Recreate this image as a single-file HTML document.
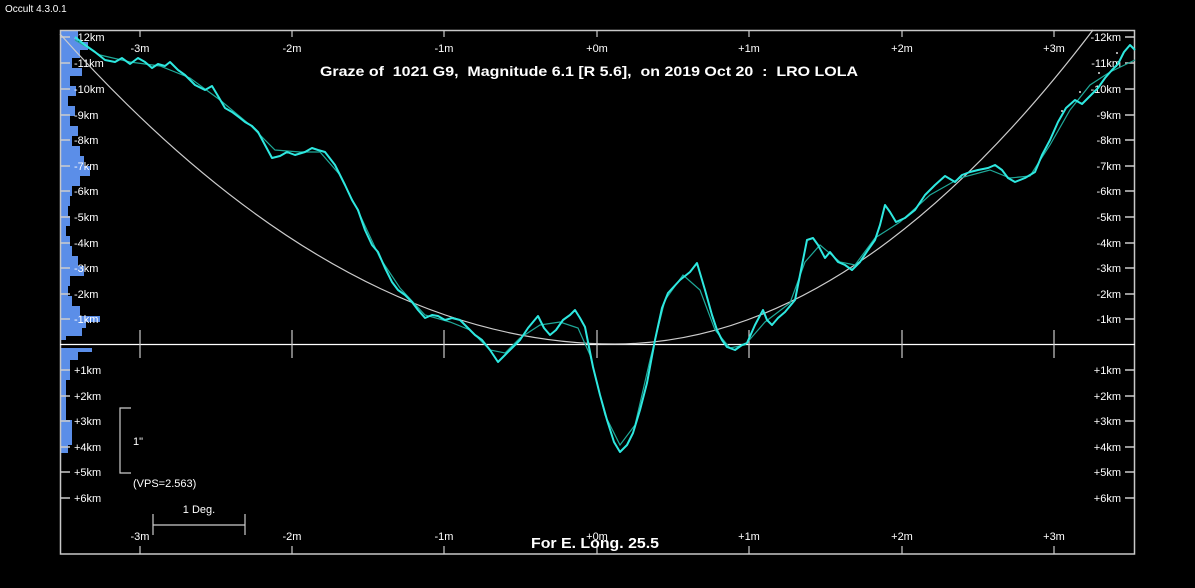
<!DOCTYPE html>
<html><head><style>
body{margin:0;background:#000;width:1195px;height:583px;overflow:hidden}
svg text{font-family:"Liberation Sans",Arial,sans-serif;fill:#fff}
</style></head><body>
<svg width="1195" height="583" viewBox="0 0 1195 583" xmlns="http://www.w3.org/2000/svg">
<text x="5" y="12" font-size="10">Occult 4.3.0.1</text>
<!-- histogram -->
<path fill="#5b8ee8" d="M60,30 H78 V42 H88 V50 H80 V58 H72 V68 H82 V76 H70 V86 H76 V96 H68 V106 H75 V116 H70 V126 H78 V136 H72 V146 H80 V156 H84 V166 H90 V176 H80 V186 H72 V196 H70 V206 H68 V216 H70 V226 H66 V236 H70 V246 H72 V256 H78 V266 H84 V276 H70 V286 H68 V296 H72 V306 H80 V316 H100 V322 H86 V328 H82 V336 H66 V340 H60 Z"/>
<path fill="#5b8ee8" d="M60,348 H92 V352 H78 V360 H70 V380 H66 V420 H72 V445 H68 V453 H60 Z"/>
<!-- frame -->
<rect x="60.5" y="30.5" width="1074" height="523.5" fill="none" stroke="#c8c8c8" stroke-width="1.5"/>
<line x1="60" y1="344.5" x2="1135" y2="344.5" stroke="#fff" stroke-width="1.2"/>
<g stroke="#ccc" stroke-width="1.2">
<line x1="140" y1="30" x2="140" y2="37"/><line x1="292" y1="30" x2="292" y2="37"/><line x1="444" y1="30" x2="444" y2="37"/><line x1="597" y1="30" x2="597" y2="37"/><line x1="749" y1="30" x2="749" y2="37"/><line x1="902" y1="30" x2="902" y2="37"/><line x1="1054" y1="30" x2="1054" y2="37"/>
<line x1="140" y1="546" x2="140" y2="554"/><line x1="292" y1="546" x2="292" y2="554"/><line x1="444" y1="546" x2="444" y2="554"/><line x1="597" y1="546" x2="597" y2="554"/><line x1="749" y1="546" x2="749" y2="554"/><line x1="902" y1="546" x2="902" y2="554"/><line x1="1054" y1="546" x2="1054" y2="554"/>
<line x1="140" y1="330" x2="140" y2="358"/><line x1="292" y1="330" x2="292" y2="358"/><line x1="444" y1="330" x2="444" y2="358"/><line x1="597" y1="330" x2="597" y2="358"/><line x1="749" y1="330" x2="749" y2="358"/><line x1="902" y1="330" x2="902" y2="358"/><line x1="1054" y1="330" x2="1054" y2="358"/>
</g>
<g font-size="11" text-anchor="middle">
<text x="140" y="52">-3m</text><text x="292" y="52">-2m</text><text x="444" y="52">-1m</text><text x="597" y="52">+0m</text><text x="749" y="52">+1m</text><text x="902" y="52">+2m</text><text x="1054" y="52">+3m</text>
<text x="140" y="540">-3m</text><text x="292" y="540">-2m</text><text x="444" y="540">-1m</text><text x="597" y="540">+0m</text><text x="749" y="540">+1m</text><text x="902" y="540">+2m</text><text x="1054" y="540">+3m</text>
</g>
<!-- km ticks -->
<g stroke="#ccc" stroke-width="1.5" id="lt">
<line x1="60" y1="37" x2="70" y2="37"/><line x1="60" y1="63" x2="70" y2="63"/><line x1="60" y1="89" x2="70" y2="89"/><line x1="60" y1="115" x2="70" y2="115"/><line x1="60" y1="140" x2="70" y2="140"/><line x1="60" y1="166" x2="70" y2="166"/><line x1="60" y1="191" x2="70" y2="191"/><line x1="60" y1="217" x2="70" y2="217"/><line x1="60" y1="243" x2="70" y2="243"/><line x1="60" y1="268" x2="70" y2="268"/><line x1="60" y1="294" x2="70" y2="294"/><line x1="60" y1="319" x2="70" y2="319"/>
<line x1="60" y1="370" x2="70" y2="370"/><line x1="60" y1="396" x2="70" y2="396"/><line x1="60" y1="421" x2="70" y2="421"/><line x1="60" y1="447" x2="70" y2="447"/><line x1="60" y1="472" x2="70" y2="472"/><line x1="60" y1="498" x2="70" y2="498"/>
</g>
<use href="#lt" transform="translate(1195,0) scale(-1,1)"/>
<g font-size="11">
<g text-anchor="start">
<text x="74" y="41">-12km</text><text x="74" y="67">-11km</text><text x="74" y="93">-10km</text><text x="74" y="119">-9km</text><text x="74" y="144">-8km</text><text x="74" y="170">-7km</text><text x="74" y="195">-6km</text><text x="74" y="221">-5km</text><text x="74" y="247">-4km</text><text x="74" y="272">-3km</text><text x="74" y="298">-2km</text><text x="74" y="323">-1km</text>
<text x="74" y="374">+1km</text><text x="74" y="400">+2km</text><text x="74" y="425">+3km</text><text x="74" y="451">+4km</text><text x="74" y="476">+5km</text><text x="74" y="502">+6km</text>
</g>
<g text-anchor="end">
<text x="1121" y="41">-12km</text><text x="1121" y="67">-11km</text><text x="1121" y="93">-10km</text><text x="1121" y="119">-9km</text><text x="1121" y="144">-8km</text><text x="1121" y="170">-7km</text><text x="1121" y="195">-6km</text><text x="1121" y="221">-5km</text><text x="1121" y="247">-4km</text><text x="1121" y="272">-3km</text><text x="1121" y="298">-2km</text><text x="1121" y="323">-1km</text>
<text x="1121" y="374">+1km</text><text x="1121" y="400">+2km</text><text x="1121" y="425">+3km</text><text x="1121" y="451">+4km</text><text x="1121" y="476">+5km</text><text x="1121" y="502">+6km</text>
</g>
</g>
<!-- scale markers -->
<path d="M131,408 H120 V473 H131" fill="none" stroke="#ccc" stroke-width="1.2"/>
<text x="133" y="445" font-size="11">1"</text>
<text x="133" y="487" font-size="11">(VPS=2.563)</text>
<path d="M153,514 V535 M153,525 H245 M245,514 V535" fill="none" stroke="#ccc" stroke-width="1.2"/>
<text x="199" y="513" font-size="11" text-anchor="middle">1 Deg.</text>
<text x="320" y="76" font-size="14" font-weight="bold" xml:space="preserve" style="white-space:pre" textLength="538" lengthAdjust="spacingAndGlyphs">Graze of  1021 G9,  Magnitude 6.1 [R 5.6],  on 2019 Oct 20  :  LRO LOLA</text>
<text x="531" y="548" font-size="15" font-weight="bold" textLength="128" lengthAdjust="spacingAndGlyphs">For E. Long. 25.5</text>
<!-- limb parabola -->
<path fill="none" stroke="#ccc" stroke-width="1.2" d="M60,34 Q337.5,344 615,344 Q854,344 1093,30"/>
<!-- smoothed -->
<path fill="none" stroke="#1fa898" stroke-width="1.2" d="M75,40 L100,55 L130,62 L160,66 L190,78 L220,100 L250,125 L275,150 L300,152 L320,152 L340,175 L360,215 L380,258 L400,288 L425,315 L450,322 L470,330 L490,350 L505,353 L520,338 L540,325 L560,322 L578,328 L590,355 L605,415 L620,445 L635,425 L650,360 L665,300 L683,275 L700,290 L715,330 L730,348 L745,345 L765,322 L790,303 L805,262 L820,245 L840,262 L855,265 L875,238 L900,222 L930,195 L960,178 L990,170 L1010,178 L1030,176 L1050,145 L1070,110 L1090,85 L1110,72 L1135,60"/>
<!-- raw profile -->
<path fill="none" stroke="#2ee8e0" stroke-width="2" stroke-linejoin="round" d="M75,37 L85,45 L95,52 L105,60 L115,62 L122,58 L130,64 L138,58 L145,62 L152,68 L158,64 L165,66 L170,62 L178,70 L185,75 L195,85 L205,90 L212,86 L218,96 L225,108 L232,112 L240,118 L245,122 L252,126 L258,132 L265,145 L272,158 L280,156 L287,152 L295,155 L305,152 L312,148 L318,150 L325,152 L335,165 L345,185 L352,200 L358,210 L365,230 L372,245 L378,252 L385,268 L392,282 L398,290 L405,295 L412,302 L418,310 L425,318 L432,315 L438,316 L445,320 L452,318 L460,320 L468,328 L475,335 L482,340 L490,350 L498,362 L505,355 L513,347 L520,340 L528,328 L533,322 L538,316 L544,328 L550,335 L556,330 L563,320 L570,315 L575,310 L580,318 L585,327 L593,367 L600,395 L607,420 L614,442 L620,452 L627,445 L633,433 L640,410 L647,383 L655,340 L662,308 L668,293 L680,280 L690,272 L697,263 L705,290 L712,315 L717,330 L722,340 L727,347 L735,350 L742,345 L747,343 L755,325 L763,310 L767,320 L772,325 L778,318 L785,312 L795,300 L800,275 L807,240 L813,238 L818,245 L825,258 L830,252 L838,262 L845,265 L852,270 L860,262 L868,250 L875,240 L880,225 L885,205 L890,212 L896,222 L905,218 L915,210 L925,195 L935,185 L945,176 L955,182 L962,175 L970,172 L978,170 L988,168 L995,165 L1002,170 L1008,178 L1015,182 L1025,178 L1035,172 L1042,155 L1050,140 L1058,122 L1066,108 L1075,100 L1082,104 L1090,96 L1098,88 L1105,78 L1112,70 L1118,64 L1124,52 L1130,45 L1135,50"/>
<g fill="#ddd"><circle cx="1062" cy="111" r="1"/><circle cx="1080" cy="92" r="1"/><circle cx="1099" cy="73" r="1"/><circle cx="1117" cy="53" r="1"/></g>
</svg>
</body></html>
